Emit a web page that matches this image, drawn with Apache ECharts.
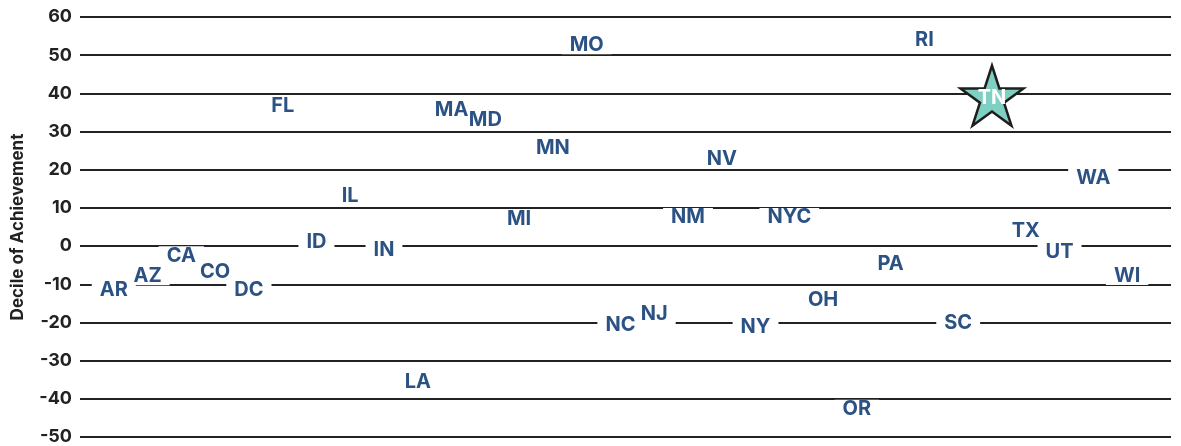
<!DOCTYPE html>
<html>
<head>
<meta charset="utf-8">
<script src="https://cdn.jsdelivr.net/npm/echarts@6/dist/echarts.min.js"></script>
<style>
  html, body { margin: 0; padding: 0; background: #fff; }
  #chart { width: 1181px; height: 446px; }
</style>
</head>
<body>
<div id="chart"></div>
<script>
// states in the order they are spread across the chart (alphabetical)
const states = ['AR', 'AZ', 'CA', 'CO', 'DC', 'FL', 'ID', 'IL', 'IN', 'LA', 'MA', 'MD', 'MI', 'MN', 'MO',
  'NC', 'NJ', 'NM', 'NV', 'NY', 'NYC', 'OH', 'OR', 'PA', 'RI', 'SC', 'TN', 'TX', 'UT', 'WA', 'WI'];
// decile of achievement
const deciles = [-11.4, -7.8, -2.5, -6.9, -11.4, 36.8, 1.0, 13.2, -1.0, -35.6, 35.6, 32.9, 7.2, 25.6, 52.7,
  -20.7, -17.9, 7.5, 22.7, -21.2, 7.5, -14.2, -42.7, -4.7, 54.0, -20.2, 39.4, 4.0, -1.6, 17.9, -7.7];
const highlight = 'TN';
const yMin = -50, yMax = 60, yStep = 10;

const FONT = 'Inter';
const TEXT_BLUE = '#2b5283';
const LINE = '#222222';
const STAR = 'path://M50,0L61.23,34.55L97.55,34.55L68.17,55.9L79.39,90.45L50,69.1L20.61,90.45L31.83,55.9L2.45,34.55L38.77,34.55Z';

const others = [], starred = [];
states.forEach(function (s, i) {
  (s === highlight ? starred : others).push([i, deciles[i], s]);
});

// one label style, used twice: white boxes underneath, then the text on top
function stateLabel(textColor, bg) {
  return {
    show: true,
    position: 'inside',
    formatter: function (p) { return p.data[2]; },
    fontFamily: FONT, fontWeight: 'bold', fontSize: 20, color: textColor,
    backgroundColor: bg,
    lineHeight: 19,
    padding: [0, 8]
  };
}

const chart = echarts.init(document.getElementById('chart'));
chart.setOption({
  animation: false,
  grid: { left: 80, right: 10, top: 17, bottom: 8 },
  xAxis: {
    type: 'value', min: -1, max: 31.3, show: false
  },
  yAxis: {
    type: 'value', min: yMin, max: yMax, interval: yStep,
    name: 'Decile of Achievement',
    nameLocation: 'middle',
    nameGap: 54,
    nameTextStyle: { fontFamily: FONT, fontWeight: 'bold', fontSize: 17, color: LINE },
    axisLine: { show: false },
    axisTick: { show: false },
    axisLabel: { margin: 8, fontFamily: FONT, fontWeight: 'bold', fontSize: 18, color: LINE },
    splitLine: { lineStyle: { color: LINE, width: 2 } }
  },
  series: [
    {
      type: 'scatter',
      data: others,
      symbolSize: 1,
      itemStyle: { color: 'rgba(0,0,0,0)', opacity: 1 },
      label: stateLabel('rgba(0,0,0,0)', '#fff')
    },
    {
      type: 'scatter',
      data: others,
      symbolSize: 1,
      itemStyle: { color: 'rgba(0,0,0,0)', opacity: 1 },
      label: stateLabel(TEXT_BLUE, 'transparent')
    },
    {
      type: 'scatter',
      data: starred,
      symbol: STAR,
      symbolSize: [63, 60],
      itemStyle: { color: '#7fd0c3', borderColor: '#1e1e1e', borderWidth: 2.5, opacity: 1 },
      label: {
        show: true,
        position: 'inside',
        offset: [0, 2],
        formatter: function (p) { return p.data[2]; },
        fontFamily: FONT, fontWeight: 'bold', fontSize: 20, color: '#fff'
      }
    }
  ]
});
</script>
</body>
</html>
